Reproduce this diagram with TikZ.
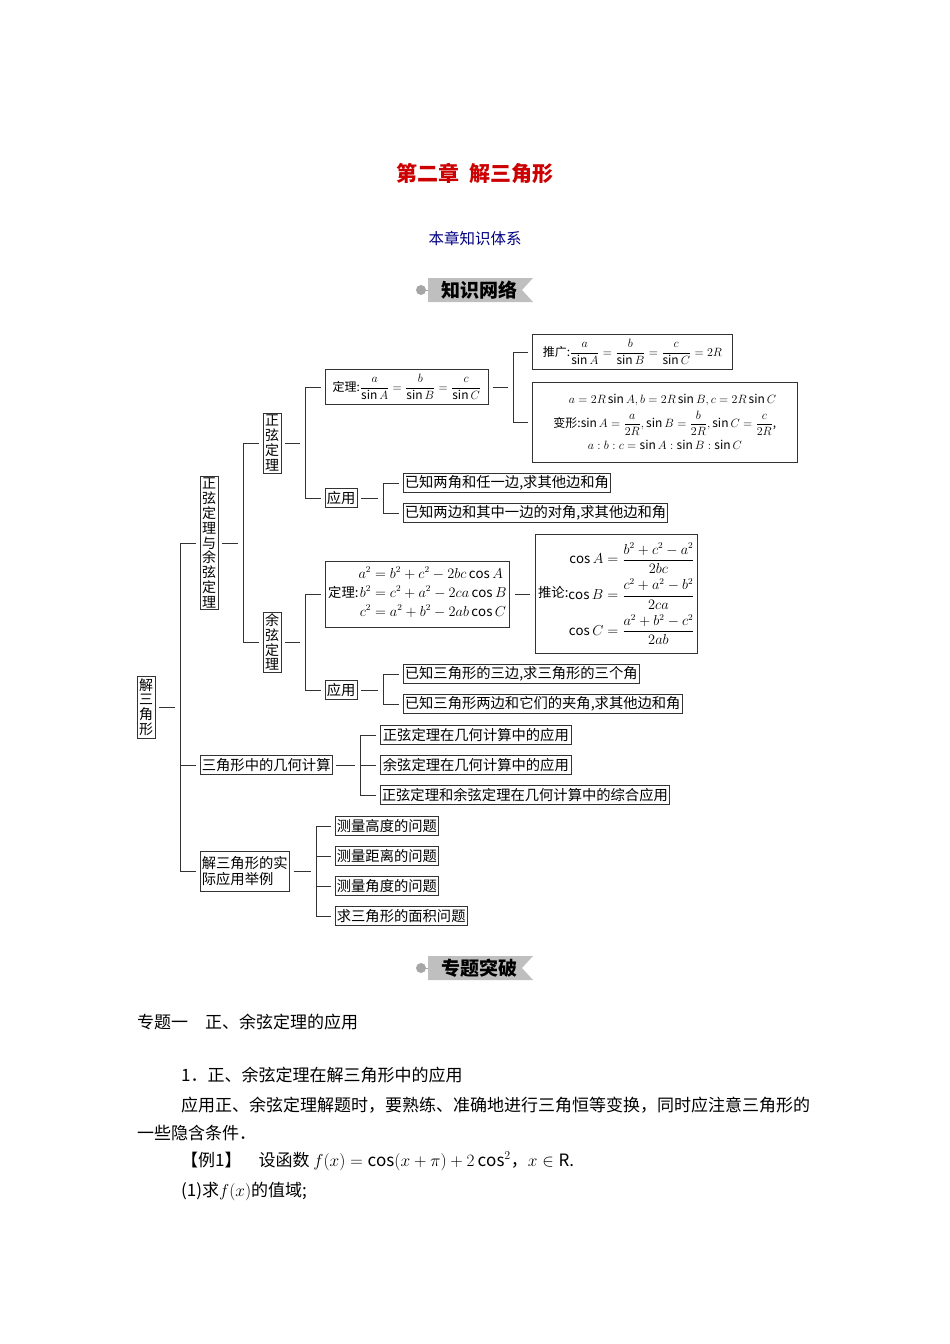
\documentclass[tikz,border=0pt]{standalone}
\usepackage{amsmath}
\usepackage{fontspec}
\setmainfont{Noto Sans CJK SC}
\usetikzlibrary{calc}
\begin{document}
\begin{tikzpicture}[x=1pt,y=-1pt,
  bx/.style={draw=black!80,line width=0.7pt,inner sep=1.5pt,font=\fontsize{14.3}{16}\selectfont,anchor=west,minimum height=19},
  mbx/.style={draw=black!80,line width=0.7pt,inner sep=1.5pt,font=\fontsize{13.3}{15}\selectfont,anchor=west},
  sbx/.style={mbx,font=\fontsize{12}{14}\selectfont},
  vbx/.style={draw=black!80,line width=0.7pt,inner sep=1pt,font=\fontsize{14}{14.8}\selectfont,align=center,minimum width=18},
  ln/.style={line width=0.7pt,black!80},
  txt/.style={anchor=west,font=\fontsize{17}{18}\selectfont,inner sep=0}]
\useasboundingbox (0,0) rectangle (950,1344);
\node[font=\fontsize{21}{22}\selectfont\bfseries,text=red!80!black] (title) at (475,173) {第二章\ \ 解三角形};
\node[font=\fontsize{15.5}{16}\selectfont,text=blue!50!black] (sub) at (475,238) {本章知识体系};
% banners
\foreach \y/\t/\n in {290/知识网络/ba,968/专题突破/bb}{
  \fill[black!25] (428,\y-12) -- (533,\y-12) -- (522,\y) -- (533,\y+12) -- (428,\y+12) -- cycle;
  \fill[black!35] (421,\y) circle (5);
  \draw[black!35,line width=1pt] (421,\y) -- (428,\y);
  \node[font=\fontsize{19}{20}\selectfont\bfseries] (\n) at (479,\y) {\t};
}
% nodes
\node[vbx,minimum height=62] (root) at (146,707) {解\\三\\角\\形};
\node[vbx,minimum height=133] (zy) at (209,543) {正\\弦\\定\\理\\与\\余\\弦\\定\\理};
\node[vbx,minimum height=60] (zx) at (272,443) {正\\弦\\定\\理};
\node[vbx,minimum height=60] (yx) at (272,642) {余\\弦\\定\\理};
\node[sbx,minimum height=35,minimum width=163] (zdl) at (325,387) {定理:$\dfrac{a}{\sin A}=\dfrac{b}{\sin B}=\dfrac{c}{\sin C}$};
\node[bx] (zyy) at (325,498) {应用};
\node[sbx,minimum height=35,minimum width=200] (tg) at (532,352) {推广:$\dfrac{a}{\sin A}=\dfrac{b}{\sin B}=\dfrac{c}{\sin C}=2R$};
\node[sbx,minimum height=80,align=center,minimum width=265,inner sep=1pt] (bx) at (532,422) {\quad\;$a=2R\sin A,b=2R\sin B,c=2R\sin C$\\[4pt]变形:$\sin A=\dfrac{a}{2R},\sin B=\dfrac{b}{2R},\sin C=\dfrac{c}{2R}$,\\[4pt]$a:b:c=\sin A:\sin B:\sin C$};
\node[bx] (z1) at (403,483) {已知两角和任一边,求其他边和角};
\node[bx] (z2) at (403,513) {已知两边和其中一边的对角,求其他边和角};
\node[mbx,minimum height=66,minimum width=184] (ydl) at (325,594) {定理:$\begin{aligned}a^2&=b^2+c^2-2bc\cos A\\[-1pt]b^2&=c^2+a^2-2ca\cos B\\[-1pt]c^2&=a^2+b^2-2ab\cos C\end{aligned}$};
\node[mbx,minimum height=119,minimum width=162] (tl) at (535,594) {推论:$\begin{aligned}\cos A&=\frac{b^2+c^2-a^2}{2bc}\\[1pt]\cos B&=\frac{c^2+a^2-b^2}{2ca}\\[1pt]\cos C&=\frac{a^2+b^2-c^2}{2ab}\end{aligned}$};
\node[bx] (yyy) at (325,690) {应用};
\node[bx] (y1) at (403,674) {已知三角形的三边,求三角形的三个角};
\node[bx] (y2) at (403,704) {已知三角形两边和它们的夹角,求其他边和角};
\node[bx] (jh) at (200,765) {三角形中的几何计算};
\node[bx,minimum width=191] (j1) at (380,735) {正弦定理在几何计算中的应用};
\node[bx,minimum width=191] (j2) at (380,765) {余弦定理在几何计算中的应用};
\node[bx] (j3) at (380,795) {正弦定理和余弦定理在几何计算中的综合应用};
\node[bx,align=left,minimum height=40] (sj) at (200,871) {解三角形的实\\际应用举例};
\node[bx] (s1) at (335,826) {测量高度的问题};
\node[bx] (s2) at (335,856) {测量距离的问题};
\node[bx] (s3) at (335,886) {测量角度的问题};
\node[bx] (s4) at (335,916) {求三角形的面积问题};
% connectors
\newcommand\brk[4]{% parent, vx, first, last
  \coordinate (vv) at (#2,0);
  \draw[ln] ([xshift=4]#1.east) -- ([xshift=-5]vv |- #1.east);
  \draw[ln] (vv |- #3.west) -- (vv |- #4.west);}
\newcommand\chl[2]{\draw[ln] (vv |- #1.west) -- ([xshift=-#2]#1.west);}
\brk{root}{180}{zy}{sj}\chl{zy}{4}\chl{jh}{4}\chl{sj}{4}
\brk{zy}{243}{zx}{yx}\chl{zx}{4}\chl{yx}{4}
\brk{zx}{305}{zdl}{zyy}\chl{zdl}{4}\chl{zyy}{4}
\brk{zdl}{513}{tg}{bx}\chl{tg}{4}\chl{bx}{4}
\brk{zyy}{383}{z1}{z2}\chl{z1}{4}\chl{z2}{4}
\brk{yx}{305}{ydl}{yyy}\chl{ydl}{4}\chl{yyy}{4}
\draw[ln] ([xshift=5]ydl.east) -- ([xshift=-5]tl.west);
\brk{yyy}{383}{y1}{y2}\chl{y1}{4}\chl{y2}{4}
\brk{jh}{360}{j1}{j3}\chl{j1}{4}\chl{j2}{4}\chl{j3}{4}
\brk{sj}{316}{s1}{s4}\chl{s1}{4}\chl{s2}{4}\chl{s3}{4}\chl{s4}{4}
% text
\node[txt] (t1) at (137,1022) {专题一\quad 正、余弦定理的应用};
\node[txt] (t2) at (181,1075) {1．正、余弦定理在解三角形中的应用};
\node[txt] (t3) at (181,1105) {应用正、余弦定理解题时，要熟练、准确地进行三角恒等变换，同时应注意三角形的};
\node[txt] (t4) at (137,1133) {一些隐含条件．};
\node[txt] (t5) at (181,1161) {【例1】\quad 设函数 $f(x)=\cos(x+\pi)+2\cos^2$，$x\in\mathrm{R}$.};
\node[txt] (t6) at (181,1191) {(1)求$f(x)$的值域;};
\end{tikzpicture}
\end{document}
